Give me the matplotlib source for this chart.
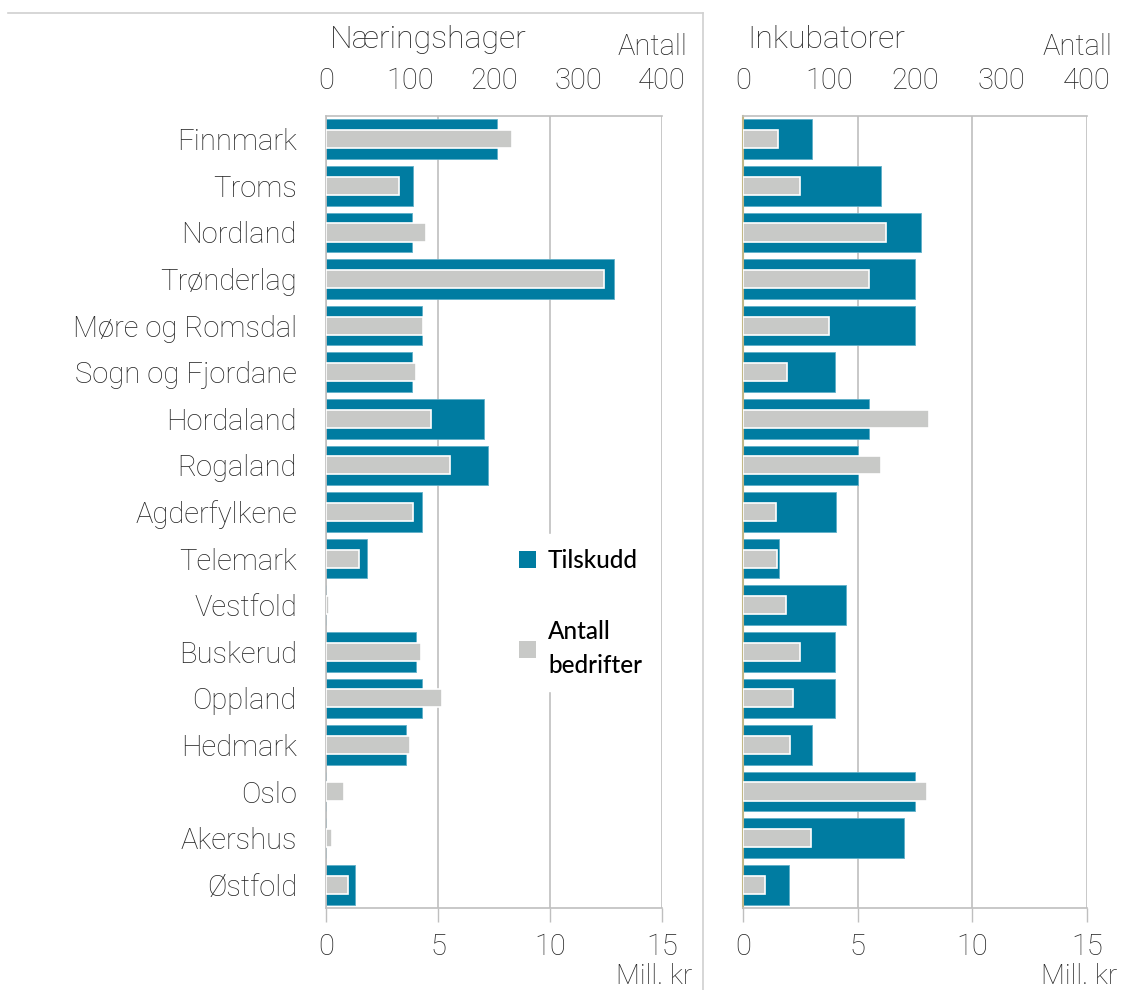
import numpy as np
import matplotlib.pyplot as plt
from matplotlib.patches import Patch
from matplotlib.lines import Line2D

plt.rcParams['font.family'] = ['Roboto', 'DejaVu Sans']
plt.rcParams['font.weight'] = 'light'

regions = ["Finnmark", "Troms", "Nordland", "Trønderlag", "Møre og Romsdal",
           "Sogn og Fjordane", "Hordaland", "Rogaland", "Agderfylkene", "Telemark",
           "Vestfold", "Buskerud", "Oppland", "Hedmark", "Oslo", "Akershus", "Østfold"]

# Næringshager
hage_tilskudd = [7.65, 3.9, 3.85, 12.85, 4.3, 3.85, 7.07, 7.25, 4.3, 1.82,
                 0, 4.0, 4.3, 3.55, 0, 0, 1.3]
hage_antall = [221, 87, 119, 331, 116, 107, 125, 148, 103, 39,
               3, 113, 138, 100, 21, 7, 26]

# Inkubatorer
inkub_tilskudd = [3.0, 6.0, 7.75, 7.5, 7.5, 4.0, 5.5, 5.0, 4.05, 1.55,
                  4.5, 4.0, 4.0, 3.0, 7.5, 7.0, 2.0]
inkub_antall = [41, 66, 166, 146, 100, 51, 216, 160, 38, 40,
                50, 66, 58, 55, 214, 79, 26]

mill_ticks = [0, 5, 10, 15]
antall_ticks = [0, 100, 200, 300, 400]

BLUE = '#007CA1'
GREY = '#C8C9C7'
GRID = '#BFBFBF'
TXT = '#262626'
FS = 21

fig = plt.figure(figsize=(11.21, 9.9), dpi=100)
W, H = 1121, 990

def panel(x0, x1, tilskudd, antall, title, show_labels, zero_col):
    ax = fig.add_axes([x0 / W, 1 - 908 / H, (x1 - x0) / W, 792 / H])
    y = np.arange(len(regions))
    ax.barh(y, tilskudd, height=0.85, color=BLUE, edgecolor='#5FAFC8',
            linewidth=0.6, zorder=2)
    ax.set_xlim(0, 15)
    ax.set_ylim(len(regions) - 0.5, -0.5)
    ax.set_xticks(mill_ticks)
    ax.set_xticklabels([str(t) for t in mill_ticks])
    ax.tick_params(axis='x', length=10, width=1, color=GRID, pad=8,
                   labelsize=FS, labelcolor=TXT)
    ax.grid(axis='x', color=GRID, linewidth=1.2, zorder=0)
    ax.set_axisbelow(True)
    for s in ['top', 'bottom']:
        ax.spines[s].set_color(GRID)
        ax.spines[s].set_linewidth(1.2)
    ax.spines['right'].set_visible(False)
    ax.spines['left'].set_color(zero_col)
    ax.spines['left'].set_linewidth(1.5 if zero_col != GRID else 1.2)
    ax.set_yticks(y)
    if show_labels:
        ax.set_yticklabels(regions)
        ax.tick_params(axis='y', length=0, pad=21, labelsize=FS, labelcolor=TXT)
    else:
        ax.set_yticklabels([])
        ax.tick_params(axis='y', length=0)

    ax2 = ax.twiny()
    ax2.barh(y, antall, height=0.39, color=GREY, edgecolor='white',
             linewidth=1.2, zorder=3)
    ax2.set_xlim(0, 400)
    ax2.set_xticks(antall_ticks)
    ax2.set_xticklabels([str(t) for t in antall_ticks])
    ax2.tick_params(axis='x', length=0, pad=15, labelsize=FS, labelcolor=TXT)
    for s in ax2.spines.values():
        s.set_visible(False)
    ax2.set_ylim(len(regions) - 0.5, -0.5)

    fig.text((x0 + 4) / W, 1 - 40 / H, title, fontsize=23, color=TXT,
             ha='left', va='center')
    fig.text((x1 + 25) / W, 1 - 47 / H, "Antall", fontsize=FS, color=TXT,
             ha='right', va='center')
    fig.text((x1 + 30) / W, 1 - 977 / H, "Mill. kr", fontsize=20, color=TXT,
             ha='right', va='center')
    return ax

ax_l = panel(326, 662, hage_tilskudd, hage_antall, "Næringshager", True, GRID)
ax_r = panel(743, 1087, inkub_tilskudd, inkub_antall, "Inkubatorer", False, '#C2B887')

# frame lines around the left chart
fig.add_artist(Line2D([8 / W, 703 / W], [1 - 13 / H, 1 - 13 / H], color='#D0D0D0', lw=1.2))
fig.add_artist(Line2D([703 / W, 703 / W], [1 - 13 / H, 0], color='#D0D0D0', lw=1.2))

handles = [Patch(facecolor=BLUE, edgecolor='none'),
           Patch(facecolor=GREY, edgecolor='none')]
leg = fig.legend(handles, ["Tilskudd", "Antall\nbedrifter"],
                 loc='upper left', bbox_to_anchor=(492 / W, 1 - 522 / H),
                 frameon=True, fancybox=False, framealpha=1,
                 prop={'family': 'Lato', 'size': 17.5, 'weight': 'medium'},
                 handlelength=0.7, handleheight=0.7, handletextpad=0.5,
                 labelspacing=2.0, borderpad=0.6)
leg.get_frame().set_edgecolor('white')
leg.get_frame().set_facecolor('white')
for t in leg.get_texts():
    t.set_color('black')
    t.set_linespacing(1.55)

fig.savefig('out.png', dpi=100)
